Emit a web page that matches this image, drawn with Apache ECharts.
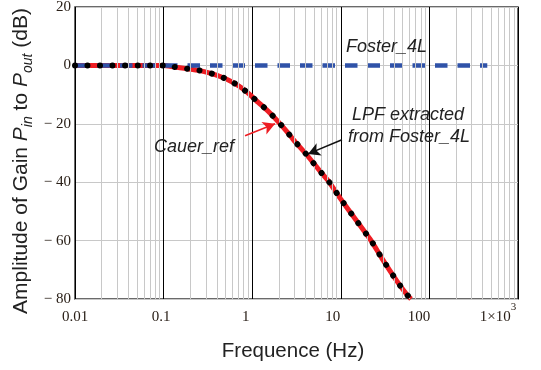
<!DOCTYPE html>
<html>
<head>
<meta charset="utf-8">
<script src="https://cdn.jsdelivr.net/npm/echarts@6/dist/echarts.min.js"></script>
<style>html,body{margin:0;padding:0;background:#fff}#c{width:541px;height:370px}</style>
</head>
<body>
<div id="c"></div>
<script>
// Frequencies (Hz) and gains (dB)
const freqHz   = [0.01, 0.1, 0.13, 0.18, 0.25, 0.35, 0.48, 0.62, 0.79, 0.94, 1.17, 1.39, 1.66, 2.02, 2.45, 2.91, 3.53, 4.12, 4.9, 6.08, 7.41, 10, 13.3, 22.3, 29, 42.8, 55.3, 62];
const cauerDb  = [0, 0, -0.5, -1.1, -1.7, -2.8, -4.3, -6.0, -8.1, -10.0, -12.7, -14.6, -16.9, -19.7, -22.6, -25.4, -28.3, -30.6, -33.4, -36.9, -40, -45.8, -51.0, -60.3, -66, -73.8, -78.4, -80];
const lpfDb    = [0, 0, -0.5, -1.1, -1.7, -2.8, -4.3, -6.0, -8.1, -10.0, -12.7, -14.6, -16.9, -19.7, -22.6, -25.4, -28.3, -30.6, -33.4, -36.9, -40, -45.8, -51.0, -60.3, -66, -73.8, -78.4, -80];
const fosterHz = [0.01, 450];
const fosterDb = [0, 0];
const xTickLabels = {'-2': '{t0|0.01}', '-1': '{t1|0.1}', '0': '{t2|1}', '1': '{t3|10}', '2': '{t4|100}', '3': '{t5|1×10}{sup|3}'};
const yTicks = [-80, -60, -40, -20, 0, 20];

const minorX = [];
for (let d = -2; d <= 2; d++) for (let k = 2; k <= 9; k++) minorX.push(+(k * Math.pow(10, d)).toPrecision(3));

const pairs = (xs, ys) => xs.map((x, i) => [x, ys[i]]);

const chart = echarts.init(document.getElementById('c'));
const sans = '"Liberation Sans", Arial, sans-serif';
const serif = '"Liberation Serif", "Times New Roman", serif';
const lblColor = '#2a2018';
const tok = (shift) => ({fontFamily: serif, fontSize: 15, color: lblColor, lineHeight: 31, verticalAlign: 'middle', padding: [0, shift, 0, 0]});
const note = (text, left, top, extra) => ({
  left: left, top: top, padding: 0, text: text,
  textStyle: Object.assign({fontFamily: sans, fontSize: 18, fontStyle: 'italic', fontWeight: 'normal', color: '#222', lineHeight: 22}, extra || {})
});
chart.setOption({
  animation: false,
  backgroundColor: '#fff',
  title: [
    note('Foster_4L', 346, 36),
    note('Cauer_ref', 154, 136),
    note('LPF extracted', 352, 104),
    note('from Foster_4L', 348, 126)
  ],
  grid: {left: 75, top: 7, right: 23, bottom: 71, outerBoundsMode: 'none', containLabel: false,
         show: true, borderColor: '#3a3a3a', borderWidth: 1.5, backgroundColor: '#fff'},
  xAxis: {
    type: 'log', logBase: 10, min: 0.01, max: 1000,
    axisLine: {show: false}, axisTick: {show: false},
    splitLine: {show: true, lineStyle: {color: '#000', width: 1}},
    axisLabel: {
      margin: 3, color: lblColor, fontFamily: serif, fontSize: 15, hideOverlap: false,
      formatter: v => xTickLabels[String(Math.round(Math.log10(v)))] || '',
      rich: {
        t0: tok(0), t1: tok(5), t2: tok(13), t3: tok(16), t4: tok(21),
        t5: tok(0),
        sup: {fontFamily: serif, fontSize: 11, color: lblColor, lineHeight: 11, verticalAlign: 'top', padding: [0, 40, 0, 0]}
      }
    },
    name: 'Frequence (Hz)', nameLocation: 'middle', nameGap: 42,
    nameTextStyle: {fontFamily: sans, fontSize: 20.5, color: '#222', padding: [0, 7, 0, 0]}
  },
  yAxis: {
    type: 'value', min: -80, max: 20, interval: 20,
    axisLine: {show: false}, axisTick: {show: false},
    splitLine: {show: true, lineStyle: {color: '#c8c8c8', width: 1}},
    axisLabel: {margin: 4, color: lblColor, fontFamily: serif, fontSize: 15,
      formatter: v => v < 0 ? '\u2212 ' + Math.abs(v) : String(v)},
    name: 'Amplitude of Gain {i|P}{sub|in} to {i|P}{sub|out} (dB)',
    nameLocation: 'middle', nameGap: 40, nameRotate: 90, nameMoveOverlap: false,
    nameTextStyle: {fontFamily: sans, fontSize: 21, color: '#222', lineHeight: 27, padding: [0, 16, 0, 0],
      rich: {
        i: {fontFamily: sans, fontSize: 21, fontStyle: 'italic', color: '#222', lineHeight: 27},
        sub: {fontFamily: sans, fontSize: 14, fontStyle: 'italic', color: '#222', lineHeight: 14, verticalAlign: 'bottom'}
      }}
  },
  series: [
    {
      type: 'line', data: [], z: 1, silent: true,
      markLine: {silent: true, symbol: ['none', 'none'], label: {show: false},
        lineStyle: {color: '#c8c8c8', width: 1, type: 'solid'},
        data: minorX.map(v => ({xAxis: v}))}
    },
    {
      name: 'Cauer_ref', type: 'line', data: pairs(freqHz, cauerDb), z: 3,
      showSymbol: false, smooth: 0.15, lineStyle: {color: '#ee1d23', width: 5}
    },
    {
      name: 'Foster_4L', type: 'line', data: pairs(fosterHz, fosterDb), z: 4,
      showSymbol: false, lineStyle: {color: '#2f52a8', width: 4.5, type: [12.5, 10], cap: 'butt'}
    },
    {
      name: 'LPF extracted from Foster_4L', type: 'line', data: pairs(freqHz, lpfDb), z: 5,
      showSymbol: false, smooth: 0.15, lineStyle: {color: '#000', width: 6, type: [0.01, 12.5], cap: 'round'},
      markLine: {silent: true, symbol: ['none', 'arrow'], symbolSize: [10, 12], label: {show: false},
        data: [
          [{coord: [0.83, -24.1], lineStyle: {color: '#ee1d23', width: 1.6, type: 'solid'}}, {coord: [1.81, -20.0]}],
          [{coord: [10.3, -25.5], lineStyle: {color: '#111', width: 1.6, type: 'solid'}}, {coord: [4.27, -30.3]}]
        ]}
    }
  ]
});
</script>
</body>
</html>
